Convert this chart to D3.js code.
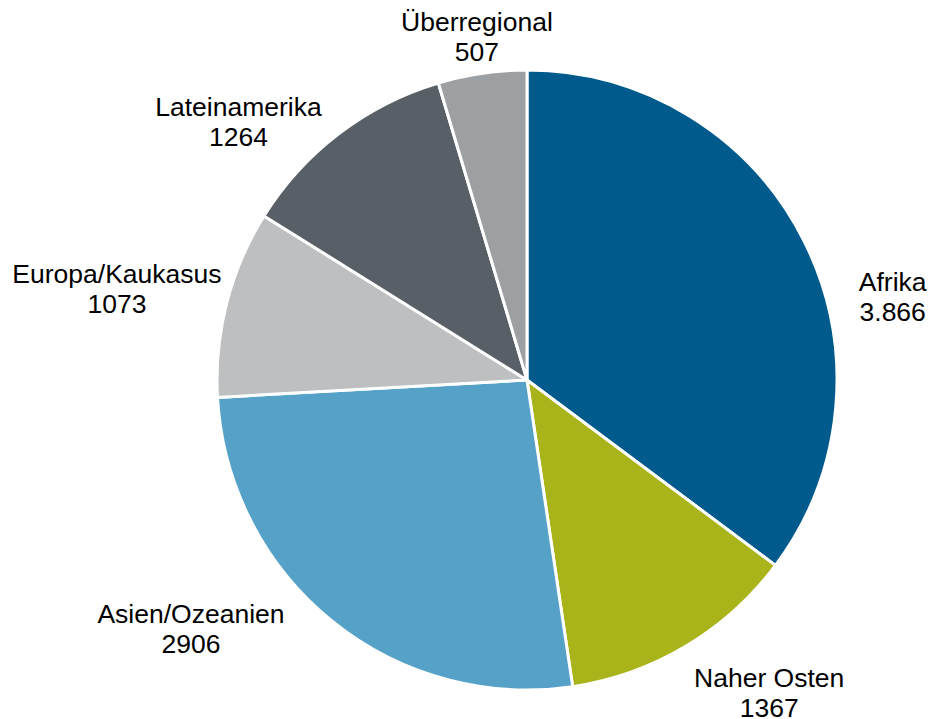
<!DOCTYPE html>
<html>
<head>
<meta charset="utf-8">
<script src="https://cdn.jsdelivr.net/npm/d3@7"></script>
<style>
  body { margin: 0; background: #fff; }
  text { font-family: "Liberation Sans", Arial, sans-serif; font-size: 26.5px; fill: #000; }
</style>
</head>
<body>
<div id="chart"></div>
<script>
const regions = ["Afrika", "Naher Osten", "Asien/Ozeanien", "Europa/Kaukasus", "Lateinamerika", "Überregional"];
const values = [3866, 1367, 2906, 1073, 1264, 507];
const valueLabels = ["3.866", "1367", "2906", "1073", "1264", "507"];
const colors = ["#005a8c", "#a8b41a", "#56a1c8", "#bdbfc1", "#595f66", "#9da0a3"];

// label placement (angle in degrees clockwise from top, distance from centre)
const labelAngle = [77.2, 142.3, 233.5, 282.5, 311.8, 351.7];
const labelDist = [375, 396, 418, 420, 387, 347];

const w = 931, h = 719;
const cx = 527, cy = 380, r = 310;

const svg = d3.select("#chart").append("svg")
	.attr("width", w)
	.attr("height", h);

const pie = d3.pie().sort(null).value(d => d);
const arc = d3.arc().innerRadius(0).outerRadius(r);

const g = svg.append("g").attr("transform", `translate(${cx},${cy})`);

g.selectAll("path")
	.data(pie(values))
	.enter()
	.append("path")
	.attr("d", arc)
	.attr("fill", (d, i) => colors[i])
	.attr("stroke", "#fff")
	.attr("stroke-width", 3)
	.attr("stroke-linejoin", "round");

const labels = g.selectAll("text.lbl")
	.data(regions)
	.enter()
	.append("text")
	.attr("class", "lbl")
	.attr("text-anchor", "middle")
	.attr("transform", (d, i) => {
		const a = labelAngle[i] * Math.PI / 180;
		return `translate(${Math.sin(a) * labelDist[i]},${-Math.cos(a) * labelDist[i]})`;
	});

labels.append("tspan").attr("x", 0).attr("y", -6).text(d => d);
labels.append("tspan").attr("x", 0).attr("y", 24).text((d, i) => valueLabels[i]);
</script>
</body>
</html>
